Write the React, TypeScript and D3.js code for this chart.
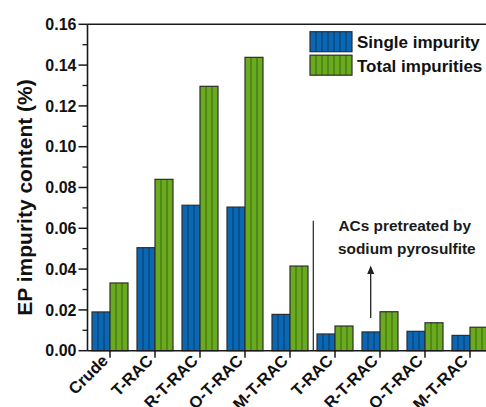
import React from "react";
import * as d3 from "d3";

// Impurity content of EP after purification with different activated carbons
const categories = ["Crude", "T-RAC", "R-T-RAC", "O-T-RAC", "M-T-RAC", "T-RAC", "R-T-RAC", "O-T-RAC", "M-T-RAC"];
const singleImpurity = [0.019, 0.0505, 0.0713, 0.0704, 0.0178, 0.0082, 0.0092, 0.0095, 0.0075];
const totalImpurities = [0.0332, 0.084, 0.1296, 0.1438, 0.0415, 0.0121, 0.0191, 0.0137, 0.0115];
const seriesNames = ["Single impurity", "Total impurities"];
const yTicks = [0, 0.02, 0.04, 0.06, 0.08, 0.1, 0.12, 0.14, 0.16];
const yMinorTicks = [0.01, 0.03, 0.05, 0.07, 0.09, 0.11, 0.13, 0.15];

const W = 486;
const H = 407;
const FONT = "'Liberation Sans', Arial, Helvetica, sans-serif";
const AXIS = "#1a1a1a";
const fills = ["#0a67b3", "#6aaa1e"];
const stripes = ["#0a3a66", "#3a6612"];
const STRIPE = 6;

export default function App() {
  const x = d3
    .scaleBand<number>()
    .domain(d3.range(categories.length))
    .range([87.5, 492.5])
    .padding(0);
  const sub = d3.scaleBand<number>().domain([0, 1]).range([4.5, 40.5]).padding(0);
  const y = d3.scaleLinear().domain([0, 0.16]).range([350.7, 24.3]);

  const series = [singleImpurity, totalImpurities];
  const left = x.range()[0];
  const bottom = y(0);
  const top = y(0.16);

  const bars: React.ReactNode[] = [];
  series.forEach((vals, s) => {
    vals.forEach((v, i) => {
      const x0 = (x(i) as number) + (sub(s) as number);
      const w = sub.bandwidth();
      const y0 = y(v);
      const h = bottom - y0;
      bars.push(
        <g key={`b${s}-${i}`}>
          <rect x={x0} y={y0} width={w} height={h} fill={fills[s]} />
          {d3.range(STRIPE, w - 1, STRIPE).map((dx) => (
            <line
              key={dx}
              x1={x0 + dx}
              x2={x0 + dx}
              y1={y0}
              y2={bottom}
              stroke={stripes[s]}
              strokeWidth={1}
            />
          ))}
          <rect x={x0} y={y0} width={w} height={h} fill="none" stroke="#2e2e2e" strokeWidth={1.2} />
        </g>
      );
    });
  });

  const sepX = 313.3;
  const arrowX = 370.7;

  return (
    <svg
      width={W}
      height={H}
      style={{ position: "absolute", left: 0, top: 0, background: "#fff" }}
      fontFamily={FONT}
    >
      <rect width={W} height={H} fill="#fff" />
      {bars}

      {/* frame: top and left lines, bottom axis */}
      <line x1={left} x2={W + 10} y1={top} y2={top} stroke={AXIS} strokeWidth={1.6} />
      <line x1={left} x2={left} y1={top} y2={bottom} stroke={AXIS} strokeWidth={1.6} />
      <line x1={left} x2={W + 10} y1={bottom} y2={bottom} stroke={AXIS} strokeWidth={1.6} />

      {/* y axis ticks */}
      {yTicks.map((t) => (
        <g key={`yt${t}`}>
          <line x1={left - 9} x2={left} y1={y(t)} y2={y(t)} stroke={AXIS} strokeWidth={1.5} />
          <text
            x={left - 11}
            y={y(t)}
            dy="0.36em"
            textAnchor="end"
            fontSize={16}
            fontWeight="bold"
            fill="#111"
          >
            {t.toFixed(2)}
          </text>
        </g>
      ))}
      {yMinorTicks.map((t) => (
        <line key={`ym${t}`} x1={left - 5} x2={left} y1={y(t)} y2={y(t)} stroke={AXIS} strokeWidth={1.3} />
      ))}
      <text
        transform={`translate(32,${(top + bottom) / 2 + 10}) rotate(-90)`}
        textAnchor="middle"
        fontSize={21}
        fontWeight="bold"
        fill="#111"
      >
        EP impurity content (%)
      </text>

      {/* x axis ticks and rotated labels */}
      {categories.map((c, i) => {
        const cx = (x(i) as number) + x.bandwidth() / 2;
        return (
          <g key={`xt${i}`}>
            <line x1={cx} x2={cx} y1={bottom} y2={bottom + 7} stroke={AXIS} strokeWidth={1.5} />
            <text
              transform={`translate(${cx - 1},${bottom + 11}) rotate(-45)`}
              textAnchor="end"
              fontSize={16.5}
              fontWeight="bold"
              fill="#111"
            >
              {c}
            </text>
          </g>
        );
      })}

      {/* separator and annotation */}
      <line x1={sepX} x2={sepX} y1={220.7} y2={bottom} stroke="#222" strokeWidth={1.2} />
      <line x1={arrowX} x2={arrowX} y1={318} y2={272} stroke="#222" strokeWidth={1.3} />
      <path
        d={`M${arrowX},265.5 L${arrowX - 3.5},274 L${arrowX + 3.5},274 Z`}
        fill="#222"
      />
      <text x={338.5} y={231} fontSize={15.4} fontWeight="bold" fill="#1a1a1a">
        ACs pretreated by
      </text>
      <text x={338} y={253.5} fontSize={15.4} fontWeight="bold" fill="#1a1a1a">
        sodium pyrosulfite
      </text>

      {/* legend */}
      {seriesNames.map((name, s) => {
        const ly = 31.7 + s * 23.5;
        const lw = 42;
        const lh = 20;
        return (
          <g key={`lg${s}`}>
            <rect x={310} y={ly} width={lw} height={lh} fill={fills[s]} />
            {d3.range(STRIPE, lw - 1, STRIPE).map((dx) => (
              <line
                key={dx}
                x1={310 + dx}
                x2={310 + dx}
                y1={ly}
                y2={ly + lh}
                stroke={stripes[s]}
                strokeWidth={1}
              />
            ))}
            <rect x={310} y={ly} width={lw} height={lh} fill="none" stroke="#2e2e2e" strokeWidth={1.2} />
            <text x={357} y={ly + 16.3} fontSize={17} fontWeight="bold" fill="#111">
              {name}
            </text>
          </g>
        );
      })}
    </svg>
  );
}
